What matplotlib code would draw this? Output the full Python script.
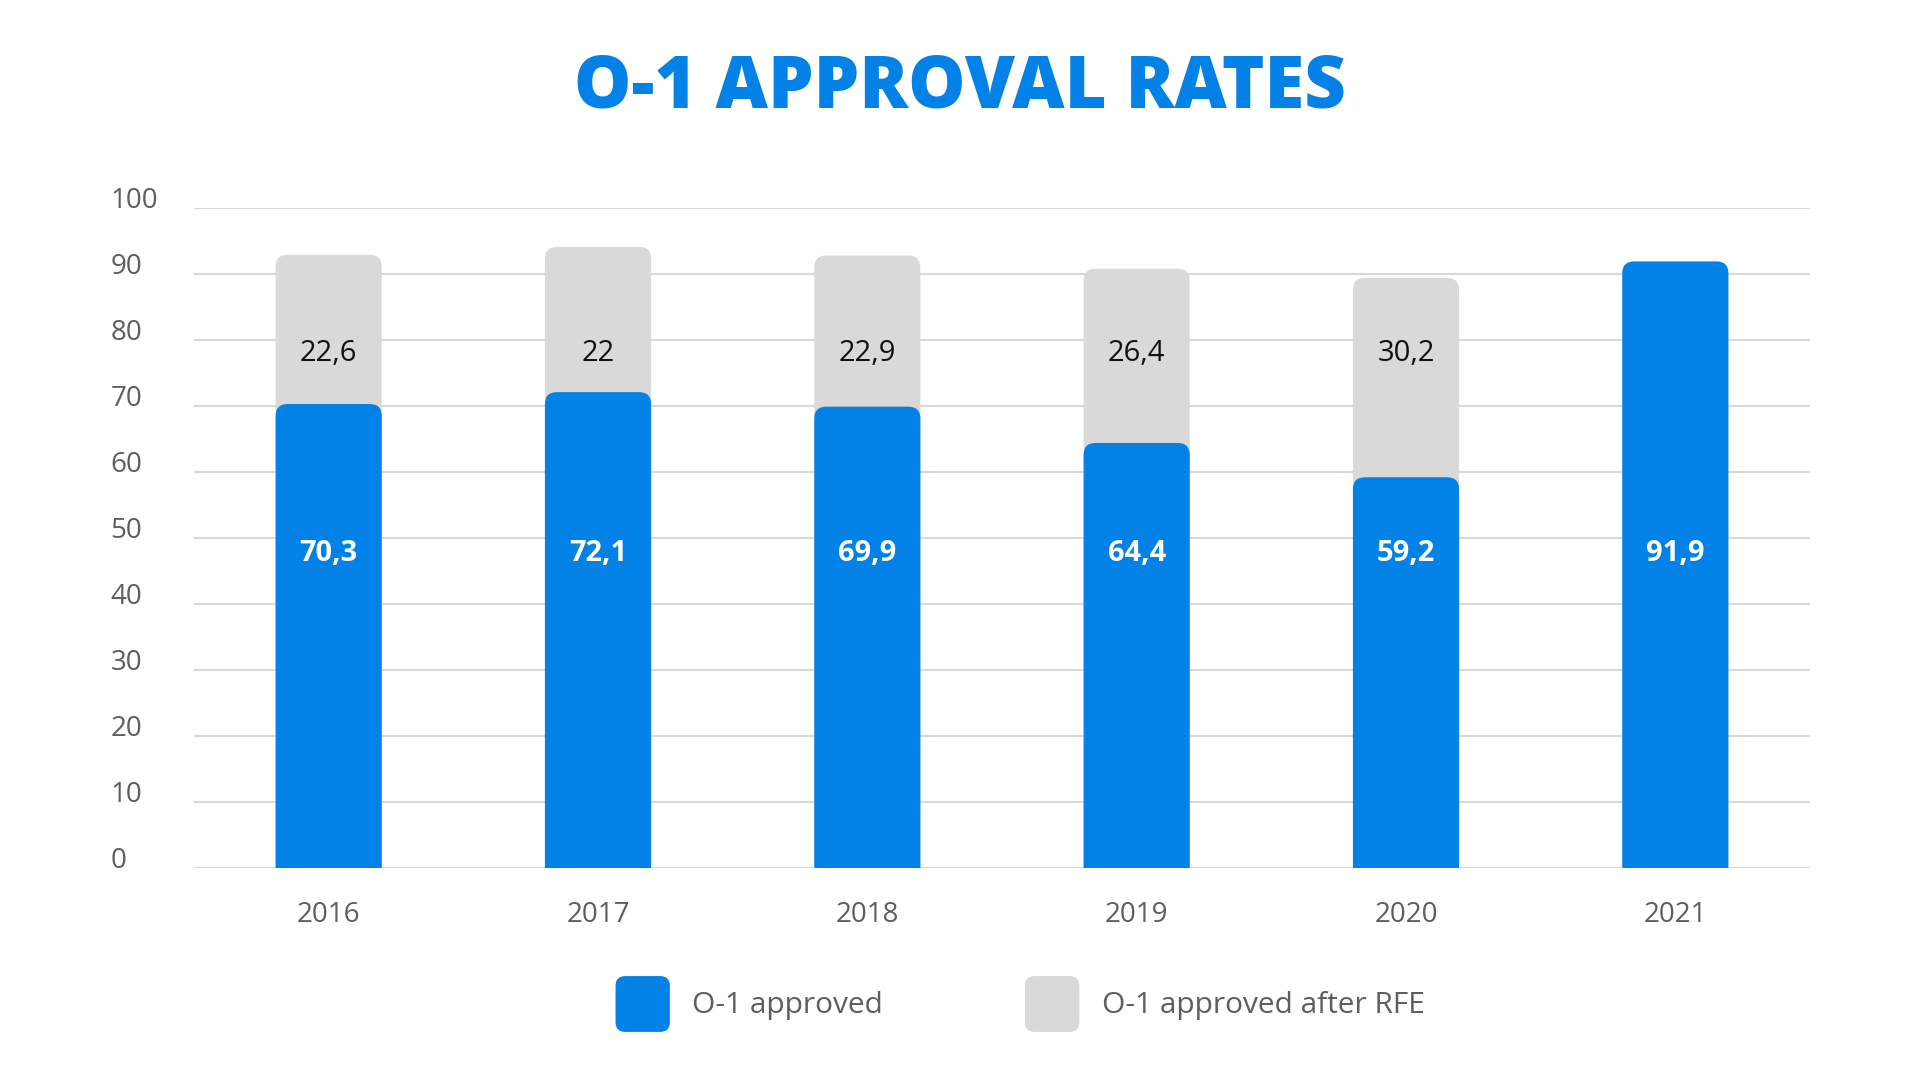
import matplotlib
matplotlib.use("Agg")
import matplotlib.pyplot as plt
from matplotlib.patches import FancyBboxPatch, Patch
from matplotlib.legend_handler import HandlerPatch

# data
years = ["2016", "2017", "2018", "2019", "2020", "2021"]
approved = [70.3, 72.1, 69.9, 64.4, 59.2, 91.9]
after_rfe = [22.6, 22.0, 22.9, 26.4, 30.2, 0.0]
after_rfe_labels = ["22,6", "22", "22,9", "26,4", "30,2", ""]
approved_labels = ["70,3", "72,1", "69,9", "64,4", "59,2", "91,9"]
y_ticks = [0, 10, 20, 30, 40, 50, 60, 70, 80, 90, 100]

BLUE = "#0281E6"
GREY = "#D9D9D9"
GRID = "#DAD7D4"
TXT = "#5E5E5E"
FONT = "Open Sans"

plt.rcParams["font.family"] = [FONT, "DejaVu Sans"]

fig = plt.figure(figsize=(19.2, 10.8), dpi=100)
ax = fig.add_axes([194 / 1920, 1 - 868 / 1080, (1810 - 194) / 1920, (868 - 208) / 1080])
ax.set_xlim(-0.5, 5.5)
ax.set_ylim(0, 100)

x = list(range(len(years)))
totals = [a + b for a, b in zip(approved, after_rfe)]

# px per data unit, used to keep the corner round
px_x = (1810 - 194) / 6
px_y = (868 - 208) / 100
radius_px = 12


def round_bars(bars, color, z):
    for r in bars:
        r.set_visible(False)
        h = r.get_height()
        if h <= 0:
            continue
        p = FancyBboxPatch((r.get_x(), -5), r.get_width(), h + 5,
                           boxstyle="round,pad=0,rounding_size=%f" % (radius_px / px_x),
                           mutation_aspect=px_x / px_y,
                           facecolor=color, edgecolor="none", zorder=z, clip_on=True)
        ax.add_patch(p)


grey_bars = ax.bar(x, totals, width=0.394, color=GREY)
blue_bars = ax.bar(x, approved, width=0.394, color=BLUE)
round_bars(grey_bars, GREY, 2)
round_bars(blue_bars, BLUE, 3)

for i in x:
    if after_rfe_labels[i]:
        ax.text(i, 77.9, after_rfe_labels[i], ha="center", va="center",
                fontsize=21, color="#111111", zorder=5)
    ax.text(i, 47.7, approved_labels[i], ha="center", va="center",
            fontsize=21, color="white", fontweight="bold", zorder=5)

# grid + axes styling
ax.set_yticks(y_ticks)
ax.set_yticklabels([str(v) for v in y_ticks], ha="left", va="baseline")
ax.tick_params(axis="y", length=0, pad=60, labelsize=20, labelcolor=TXT)
ax.set_xticks(x)
ax.set_xticklabels(years)
ax.tick_params(axis="x", length=0, pad=24, labelsize=20, labelcolor=TXT)
ax.grid(axis="y", color=GRID, linewidth=1.5)
ax.set_axisbelow(True)
for s in ax.spines.values():
    s.set_visible(False)

fig.text(0.5, 1 - 88 / 1080, "O-1 APPROVAL RATES", ha="center", va="center",
         fontsize=52, fontweight=800, color=BLUE)


def rounded_handle(legend, orig_handle, xdescent, ydescent, width, height, fontsize):
    return FancyBboxPatch((-xdescent, -ydescent), width, height,
                          boxstyle="round,pad=0,rounding_size=7")


handles = [Patch(facecolor=BLUE, edgecolor="none", label="O-1 approved"),
           Patch(facecolor=GREY, edgecolor="none", label="O-1 approved after RFE")]
leg = fig.legend(handles=handles, loc="center", bbox_to_anchor=(1020 / 1920, 1 - 1004 / 1080),
                 ncol=2, frameon=False, fontsize=21.5, handlelength=1.82, handleheight=2.5,
                 handletextpad=0.75, columnspacing=4.75,
                 handler_map={Patch: HandlerPatch(patch_func=rounded_handle)})
for t in leg.get_texts():
    t.set_color(TXT)

fig.savefig("out.png", dpi=100)
